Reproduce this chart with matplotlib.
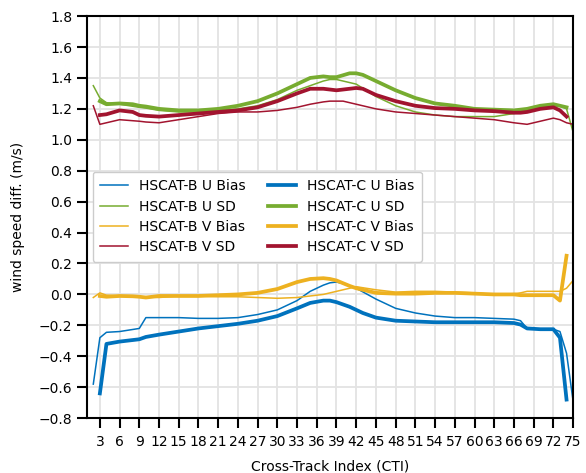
import matplotlib
matplotlib.use("Agg")
import matplotlib.pyplot as plt

# cross-track index samples
cti_b = [2, 3, 4, 6, 9, 10, 12, 15, 18, 21, 24, 27, 30, 33, 35, 37, 38, 39, 40, 42,
         45, 48, 51, 54, 57, 60, 63, 66, 67, 68, 70, 72, 73, 74, 75]
b_u_bias = [-0.58, -0.28, -0.245, -0.24, -0.22, -0.15, -0.15, -0.15, -0.155, -0.155, -0.15,
            -0.13, -0.10, -0.04, 0.02, 0.06, 0.075, 0.08, 0.07, 0.04, -0.03, -0.09, -0.12,
            -0.14, -0.15, -0.15, -0.155, -0.16, -0.17, -0.22, -0.225, -0.225, -0.24, -0.38, -0.69]
b_v_bias = [-0.02, 0.01, -0.005, -0.01, -0.015, -0.015, -0.02, -0.01, -0.01, -0.015, -0.015,
            -0.02, -0.025, -0.02, -0.01, 0.0, 0.01, 0.02, 0.03, 0.05, 0.03, 0.015, 0.02,
            0.02, 0.015, 0.01, 0.0, 0.005, 0.01, 0.02, 0.02, 0.02, 0.02, 0.04, 0.09]
b_u_sd = [1.35, 1.27, 1.24, 1.23, 1.21, 1.205, 1.19, 1.18, 1.18, 1.19, 1.20, 1.22, 1.26,
          1.32, 1.35, 1.38, 1.39, 1.39, 1.38, 1.36, 1.28, 1.22, 1.18, 1.16, 1.15, 1.15,
          1.15, 1.17, 1.18, 1.19, 1.21, 1.22, 1.22, 1.20, 1.05]
b_v_sd = [1.22, 1.10, 1.11, 1.13, 1.12, 1.115, 1.11, 1.13, 1.15, 1.17, 1.18, 1.18, 1.19,
          1.21, 1.23, 1.245, 1.25, 1.25, 1.25, 1.23, 1.20, 1.18, 1.17, 1.16, 1.15, 1.14,
          1.13, 1.11, 1.105, 1.10, 1.12, 1.14, 1.13, 1.11, 1.10]

cti_c = [3, 4, 6, 8, 9, 10, 12, 15, 18, 21, 24, 27, 30, 33, 35, 37, 38, 39, 41, 42,
         43, 45, 48, 51, 54, 57, 60, 63, 66, 67, 68, 70, 72, 73, 74]
c_u_bias = [-0.64, -0.32, -0.305, -0.295, -0.29, -0.275, -0.26, -0.24, -0.22, -0.205, -0.19,
            -0.17, -0.14, -0.09, -0.055, -0.04, -0.04, -0.05, -0.08, -0.10, -0.12, -0.15,
            -0.17, -0.175, -0.18, -0.18, -0.18, -0.18, -0.185, -0.195, -0.22, -0.225,
            -0.225, -0.28, -0.68]
c_v_bias = [-0.01, -0.015, -0.01, -0.012, -0.015, -0.02, -0.01, -0.01, -0.01, -0.005, 0.0,
            0.01, 0.035, 0.08, 0.10, 0.105, 0.10, 0.09, 0.055, 0.04, 0.03, 0.01, 0.005,
            0.005, 0.01, 0.01, 0.005, 0.0, 0.0, -0.005, -0.005, -0.005, -0.005, -0.04, 0.25]
c_u_sd = [1.25, 1.23, 1.235, 1.23, 1.22, 1.215, 1.20, 1.19, 1.19, 1.20, 1.22, 1.25, 1.30,
          1.36, 1.40, 1.41, 1.405, 1.405, 1.43, 1.43, 1.42, 1.38, 1.32, 1.27, 1.235, 1.22,
          1.20, 1.195, 1.19, 1.195, 1.20, 1.22, 1.23, 1.22, 1.21]
c_v_sd = [1.16, 1.165, 1.19, 1.18, 1.16, 1.155, 1.15, 1.16, 1.17, 1.18, 1.19, 1.21, 1.25,
          1.30, 1.33, 1.33, 1.325, 1.32, 1.33, 1.335, 1.33, 1.29, 1.25, 1.22, 1.205, 1.20,
          1.19, 1.185, 1.175, 1.175, 1.18, 1.20, 1.21, 1.19, 1.15]

xticks = list(range(3, 76, 3))
yticks = [-0.8, -0.6, -0.4, -0.2, 0.0, 0.2, 0.4, 0.6, 0.8, 1.0, 1.2, 1.4, 1.6, 1.8]

blue, green, yellow, red = '#0072BD', '#77AC30', '#EDB120', '#A2142F'

plt.rcParams['font.family'] = 'DejaVu Sans'
plt.rcParams['font.size'] = 10

fig = plt.figure(figsize=(5.86, 4.73), dpi=100)
ax = fig.add_axes([0.148, 0.116, 0.83, 0.85])

thin, thick = 1.1, 2.7
ax.plot(cti_b, b_u_bias, color=blue, lw=thin, label='HSCAT-B U Bias')
ax.plot(cti_b, b_u_sd, color=green, lw=thin, label='HSCAT-B U SD')
ax.plot(cti_b, b_v_bias, color=yellow, lw=thin, label='HSCAT-B V Bias')
ax.plot(cti_b, b_v_sd, color=red, lw=thin, label='HSCAT-B V SD')
ax.plot(cti_c, c_u_bias, color=blue, lw=thick, label='HSCAT-C U Bias')
ax.plot(cti_c, c_u_sd, color=green, lw=thick, label='HSCAT-C U SD')
ax.plot(cti_c, c_v_bias, color=yellow, lw=thick, label='HSCAT-C V Bias')
ax.plot(cti_c, c_v_sd, color=red, lw=thick, label='HSCAT-C V SD')

ax.set_xlim(1, 75)
ax.set_ylim(-0.8, 1.8)
ax.set_xticks(xticks)
ax.set_yticks(yticks)
ax.set_yticklabels([f'{v:.1f}'.replace('-', '\u2212') for v in yticks])
ax.grid(True, color='#e3e3e3', lw=1.3)
ax.set_axisbelow(True)
for s in ax.spines.values():
    s.set_linewidth(1.5)
    s.set_color('black')
ax.tick_params(direction='out', length=7, width=1.5, labelsize=10, pad=3.5)
ax.tick_params(axis='x', pad=5)

ax.set_xlabel('Cross-Track Index (CTI)', fontsize=10, labelpad=8)
ax.set_ylabel('wind speed diff. (m/s)', fontsize=10, labelpad=10)

ax.legend(ncol=2, loc='upper left', bbox_to_anchor=(0.012, 0.613), borderaxespad=0,
          fontsize=10, frameon=True, edgecolor='#cccccc', framealpha=1,
          handlelength=2.0, columnspacing=1.6, labelspacing=0.45, borderpad=0.55)

fig.savefig('out.png', dpi=100)
